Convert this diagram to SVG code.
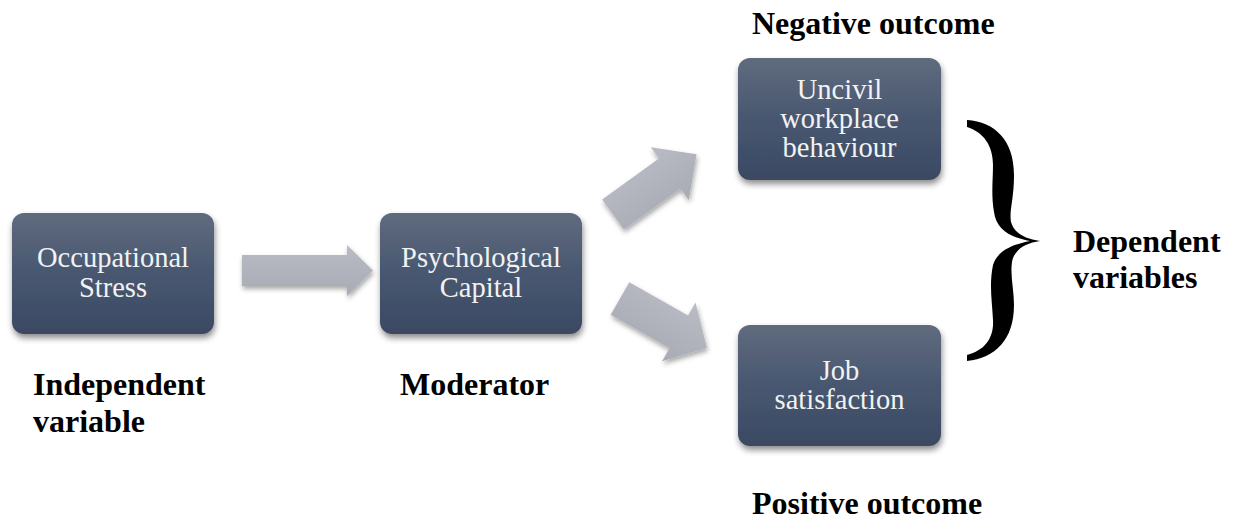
<svg xmlns="http://www.w3.org/2000/svg" width="1233" height="520" viewBox="0 0 1233 520">
  <defs>
    <linearGradient id="boxFill" x1="0" y1="0" x2="0" y2="1">
      <stop offset="0" stop-color="#5f6b7e"/>
      <stop offset="0.5" stop-color="#485770"/>
      <stop offset="1" stop-color="#3b4963"/>
    </linearGradient>
    <linearGradient id="arrowFill" x1="0" y1="0" x2="0" y2="1">
      <stop offset="0" stop-color="#b9bcc4"/>
      <stop offset="1" stop-color="#a8abb4"/>
    </linearGradient>
    <filter id="shadow" x="-20%" y="-20%" width="140%" height="150%">
      <feDropShadow dx="1" dy="4" stdDeviation="3" flood-color="#000" flood-opacity="0.45"/>
    </filter>
    <filter id="arrowShadow" x="-20%" y="-20%" width="140%" height="150%">
      <feDropShadow dx="1" dy="3" stdDeviation="2.5" flood-color="#000" flood-opacity="0.35"/>
    </filter>
  </defs>
  <style>
    .box { fill: url(#boxFill); filter: url(#shadow); }
    .boxText { font-family: "Liberation Serif", "Times New Roman", serif; font-size: 28.5px; fill: #f2f2f2; text-anchor: middle; }
    .label { font-family: "Liberation Serif", "Times New Roman", serif; font-size: 32px; font-weight: bold; fill: #000; }
    .arrow { fill: url(#arrowFill); }
  </style>

  <rect width="1233" height="520" fill="#ffffff"/>

  <!-- connectors: block arrows and the brace -->
  <g id="connectors">
    <g filter="url(#arrowShadow)">
      <polygon class="arrow" points="242,255 347,255 347,245 373,270.5 347,296 347,286 242,286"/>
    </g>
    <g filter="url(#arrowShadow)">
      <polygon class="arrow" transform="translate(613,214.5) rotate(-35.8)" points="0,-18.5 70,-18.5 70,-32.5 103,0 70,32.5 70,18.5 0,18.5"/>
    </g>
    <g filter="url(#arrowShadow)">
      <polygon class="arrow" transform="translate(620,298.5) rotate(29.6)" points="0,-18.8 67.6,-18.8 67.6,-33.8 100,0 67.6,33.8 67.6,18.8 0,18.8"/>
    </g>
    <path id="brace" fill="#000" d="M 967,120
      C 995,122 1014,140 1014,175
      C 1014,200 1009,210 1011,222
      C 1014,233 1025,239 1040,241
      C 1025,243 1014,250 1012,262
      C 1010,275 1014,290 1014,305
      C 1014,340 995,358 967,361
      L 967,355
      C 985,350 994,338 993,320
      C 992,300 989,285 993,265
      C 997,252 1010,245 1030,241
      C 1008,237 996,228 994,212
      C 991,195 993,180 993,165
      C 993,145 983,132 967,127 Z"/>
  </g>

  <!-- nodes -->
  <g id="occupational-stress">
    <rect class="box" x="12" y="213" width="202" height="121" rx="12"/>
    <text class="boxText" x="113" y="267">Occupational</text>
    <text class="boxText" x="113" y="297">Stress</text>
  </g>
  <g id="psychological-capital">
    <rect class="box" x="380" y="213" width="202" height="121" rx="12"/>
    <text class="boxText" x="481" y="267">Psychological</text>
    <text class="boxText" x="481" y="297">Capital</text>
  </g>
  <g id="uncivil-behaviour">
    <rect class="box" x="738" y="58" width="203" height="122" rx="12"/>
    <text class="boxText" x="839.5" y="99">Uncivil</text>
    <text class="boxText" x="839.5" y="128">workplace</text>
    <text class="boxText" x="839.5" y="157">behaviour</text>
  </g>
  <g id="job-satisfaction">
    <rect class="box" x="738" y="325" width="203" height="121" rx="12"/>
    <text class="boxText" x="839.5" y="380">Job</text>
    <text class="boxText" x="839.5" y="409">satisfaction</text>
  </g>

  <!-- role labels -->
  <g id="labels">
    <text class="label" x="33" y="395">Independent</text>
    <text class="label" x="33" y="432">variable</text>
    <text class="label" x="400" y="395">Moderator</text>
    <text class="label" x="752" y="34">Negative outcome</text>
    <text class="label" x="752" y="514">Positive outcome</text>
    <text class="label" x="1073" y="252">Dependent</text>
    <text class="label" x="1073" y="288">variables</text>
  </g>
</svg>
